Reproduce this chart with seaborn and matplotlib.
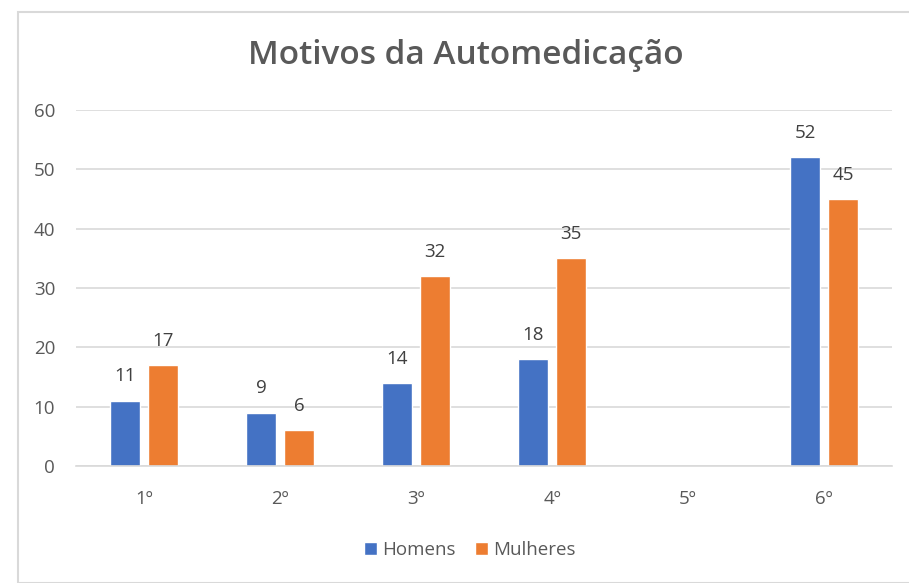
import numpy as np
import pandas as pd
import matplotlib
matplotlib.use("Agg")
import matplotlib.pyplot as plt
import seaborn as sns
from matplotlib.patches import Rectangle

categories = ["1º", "2º", "3º", "4º", "5º", "6º"]
homens = [11, 9, 14, 18, np.nan, 52]
mulheres = [17, 6, 32, 35, np.nan, 45]
series_names = ["Homens", "Mulheres"]
title = "Motivos da Automedicação"

df = pd.DataFrame({
    "cat": categories * 2,
    "val": homens + mulheres,
    "serie": [series_names[0]] * len(categories) + [series_names[1]] * len(categories),
})

sns.set_theme(style="white")
plt.rcParams["font.family"] = ["Open Sans", "DejaVu Sans"]

fig = plt.figure(figsize=(9.09, 5.83), dpi=100)
fig.patches.append(Rectangle((18 / 909, 0), 1, 1 - 12 / 583, transform=fig.transFigure,
                             fill=False, edgecolor="#D9D9D9", linewidth=1.5))
ax = fig.add_axes([76 / 909, 1 - 466 / 583, 816 / 909, 356 / 583])

palette = {"Homens": "#4472C4", "Mulheres": "#ED7D31"}
sns.barplot(data=df, x="cat", y="val", hue="serie", order=categories,
            hue_order=series_names, palette=palette, width=0.56, gap=0.21,
            saturation=1, ax=ax, legend=True)

for c in ax.containers:
    labels = ["" if np.isnan(v) else f"{v:.0f}" for v in c.datavalues]
    ax.bar_label(c, labels=labels, padding=11, fontsize=13.5, color="#404040")

ax.set_ylim(0, 60)
ax.set_yticks(range(0, 61, 10))
ax.set_xlim(-0.5, len(categories) - 0.5)
ax.grid(axis="y", color="#D9D9D9", linewidth=1.2)
ax.set_axisbelow(True)
for s in ["top", "right", "left"]:
    ax.spines[s].set_visible(False)
ax.spines["bottom"].set_color("#D9D9D9")
ax.spines["bottom"].set_linewidth(1.2)
ax.set_xlabel("")
ax.set_ylabel("")
ax.tick_params(axis="both", length=0, labelsize=13.5, labelcolor="#595959")
ax.tick_params(axis="x", pad=17)
ax.tick_params(axis="y", pad=15)

fig.text(0.512, 1 - 56 / 583, title, ha="center", va="center", fontsize=24,
         fontweight="semibold", color="#595959")

handles, labels = ax.get_legend_handles_labels()
ax.legend_.remove()
fig.legend(handles, labels, loc="center", bbox_to_anchor=(0.517, 1 - 550 / 583), ncol=2,
           frameon=False, fontsize=13.5, handlelength=0.7, handleheight=0.7,
           handletextpad=0.3, columnspacing=1.0, labelcolor="#595959")

fig.savefig("out.png", dpi=100)
